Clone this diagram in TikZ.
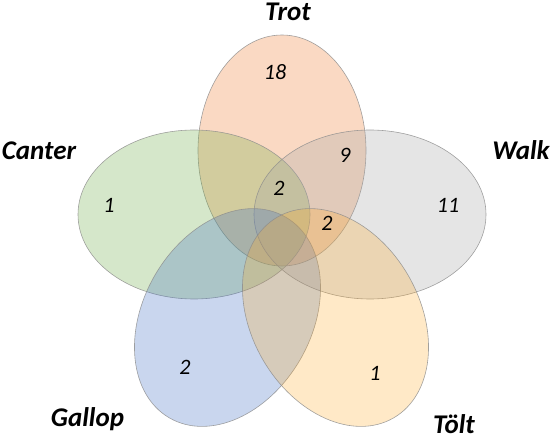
\documentclass[tikz,border=0pt]{standalone}
\usepackage{fontspec}
\setmainfont{Carlito}
\definecolor{trotc}{HTML}{ED7D31}
\definecolor{canterc}{HTML}{70AD47}
\definecolor{walkc}{HTML}{A5A5A5}
\definecolor{gallopc}{HTML}{4472C4}
\definecolor{toltc}{HTML}{FFA820}
\definecolor{edgec}{HTML}{8C8C8C}
\begin{document}
\begin{tikzpicture}[x=1pt,y=1pt,
  setfill/.style={fill=#1, fill opacity=0.29, draw=edgec, draw opacity=0.8, line width=0.6pt},
  setlabel/.style={font=\fontsize{27}{27}\selectfont\bfseries\itshape, inner sep=0pt},
  count/.style={font=\fontsize{22}{22}\selectfont\itshape, inner sep=0pt}]
\useasboundingbox (0,0) rectangle (554,439);
% sets
\draw[setfill=trotc] (282,288.5) ellipse [x radius=84, y radius=115.5];
\draw[setfill=canterc] (194,224.5) ellipse [x radius=116, y radius=84.5];
\draw[setfill=walkc] (370,224.5) ellipse [x radius=116, y radius=84.5];
\draw[setfill=gallopc, rotate around={-30:(227.5,121.5)}] (227.5,121.5) ellipse [x radius=84, y radius=116];
\draw[setfill=toltc, fill opacity=0.25, rotate around={30:(335.5,121.5)}] (335.5,121.5) ellipse [x radius=84, y radius=116];
% labels
\node[setlabel] (trot) at (288,427) {Trot};
\node[setlabel] (canter) at (39,288.5) {Canter};
\node[setlabel] (walk) at (521,288.5) {Walk};
\node[setlabel] (gallop) at (87.5,20) {Gallop};
\node[setlabel] (tolt) at (454,15) {Tölt};
% counts
\node[count] (n18) at (275,367) {18};
\node[count] (nc) at (109,234) {1};
\node[count] (n9) at (345,284) {9};
\node[count] (nct) at (279,251) {2};
\node[count] (n11) at (448,234) {11};
\node[count] (ntw) at (327,216) {2};
\node[count] (ng) at (185,71.5) {2};
\node[count] (nt) at (375,66) {1};
\end{tikzpicture}
\end{document}
